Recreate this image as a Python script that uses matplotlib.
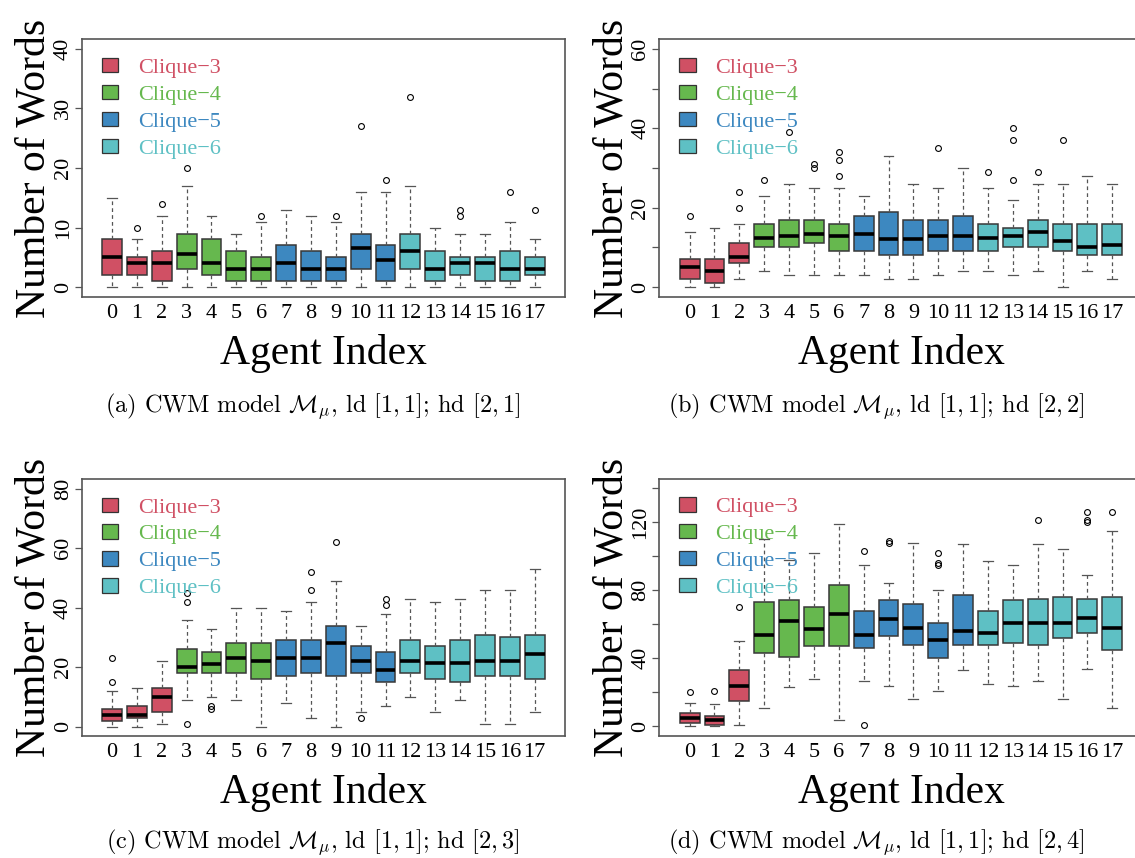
import matplotlib
matplotlib.use("Agg")
import matplotlib.pyplot as plt
from matplotlib.patches import Patch

plt.rcParams["font.family"] = ["Liberation Serif", "DejaVu Serif"]
plt.rcParams["mathtext.fontset"] = "cm"

# agents 0..17, grouped by clique size
agents = list(range(18))
agent_clique = [3] * 3 + [4] * 4 + [5] * 5 + [6] * 6
cliques = [3, 4, 5, 6]
clique_labels = ["Clique\u22123", "Clique\u22124", "Clique\u22125", "Clique\u22126"]
clique_colors = ["#D05064", "#66B84E", "#3D88C0", "#5EC0C4"]

# (a) hd [2,1]
a_lo = [0, 0, 0, 0, 0, 0, 0, 0, 0, 0, 0, 0, 0, 0, 0, 0, 0, 0]
a_q1 = [2, 2, 1, 3, 2, 1, 1, 1, 1, 1, 3, 1, 3, 1, 2, 1, 1, 2]
a_med = [5, 4, 4, 5.5, 4, 3, 3, 4, 3, 3, 6.5, 4.5, 6, 3, 4, 4, 3, 3]
a_q3 = [8, 5, 6, 9, 8, 6, 5, 7, 6, 5, 9, 7, 9, 6, 5, 5, 6, 5]
a_hi = [15, 8, 12, 17, 12, 9, 11, 13, 12, 11, 16, 16, 17, 10, 9, 9, 11, 8]
a_out = [[], [10], [14], [20], [], [], [12], [], [], [12], [27], [18], [32], [], [12, 13], [], [16], [13]]

# (b) hd [2,2]
b_lo = [0, 0, 2, 4, 3, 3, 3, 3, 2, 2, 3, 4, 4, 3, 4, 0, 4, 2]
b_q1 = [2, 1, 6, 10, 10, 11, 9, 9, 8, 8, 9, 9, 9, 10, 10, 9, 8, 8]
b_med = [5, 4, 7.5, 12.5, 13, 13.5, 13, 13.5, 12, 12, 13, 13, 12.5, 13, 14, 11.5, 10, 10.5]
b_q3 = [7, 7, 11, 16, 17, 17, 16, 18, 19, 17, 17, 18, 16, 15, 17, 16, 16, 16]
b_hi = [14, 15, 16, 23, 26, 25, 25, 23, 33, 26, 25, 30, 25, 22, 26, 26, 28, 26]
b_out = [[18], [], [20, 24], [27], [39], [30, 31], [28, 32, 34], [], [], [], [35], [], [29],
         [27, 37, 40], [29], [37], [], []]

# (c) hd [2,3]
c_lo = [0, 0, 1, 9, 10, 9, 0, 8, 3, 0, 5, 7, 10, 5, 9, 1, 1, 5]
c_q1 = [2, 3, 5, 18, 18, 18, 16, 17, 18, 17, 18, 15, 18, 16, 15, 17, 17, 16]
c_med = [4, 4, 10, 20, 21, 23, 22, 23, 23, 28, 22, 19, 22, 21.5, 21.5, 22, 22, 24.5]
c_q3 = [6, 7, 13, 26, 25, 28, 28, 29, 29, 34, 27, 25, 29, 27, 29, 31, 30, 31]
c_hi = [12, 13, 22, 36, 33, 40, 40, 39, 42, 49, 34, 38, 43, 42, 43, 46, 46, 53]
c_out = [[15, 23], [], [], [1, 42, 45], [6, 7], [], [], [], [46, 52], [62], [3], [41, 43],
         [], [], [], [], [], []]

# (d) hd [2,4]
d_lo = [0, 0, 1, 11, 23, 28, 4, 27, 24, 16, 21, 33, 25, 24, 27, 16, 34, 11]
d_q1 = [2, 1, 15, 43, 41, 47, 47, 46, 53, 48, 40, 48, 48, 49, 48, 52, 55, 45]
d_med = [5, 4, 24, 54, 62, 57, 66, 54, 63, 58, 51, 56, 55, 61, 61, 61, 64, 58]
d_q3 = [8, 6, 33, 73, 74, 70, 83, 68, 74, 72, 61, 77, 68, 74, 75, 76, 75, 76]
d_hi = [14, 13, 50, 110, 98, 102, 119, 95, 84, 108, 80, 107, 97, 95, 107, 104, 89, 115]
d_out = [[20], [21], [70], [], [], [], [], [1, 103], [108, 109], [], [95, 96, 102], [], [],
         [], [121], [], [120, 121, 126], [126]]

panels = [
    ("(a)", "[2,1]", a_lo, a_q1, a_med, a_q3, a_hi, a_out, 40, [0, 10, 20, 30, 40], ["0", "10", "20", "30", "40"]),
    ("(b)", "[2,2]", b_lo, b_q1, b_med, b_q3, b_hi, b_out, 60, [0, 10, 20, 30, 40, 50, 60], ["0", "", "20", "", "40", "", "60"]),
    ("(c)", "[2,3]", c_lo, c_q1, c_med, c_q3, c_hi, c_out, 80, [0, 20, 40, 60, 80], ["0", "20", "40", "60", "80"]),
    ("(d)", "[2,4]", d_lo, d_q1, d_med, d_q3, d_hi, d_out, 140, [0, 20, 40, 60, 80, 100, 120, 140],
     ["0", "", "40", "", "80", "", "120", ""]),
]

W, H = 1135, 858
fig = plt.figure(figsize=(W / 100, H / 100), dpi=100)

# pixel boxes of each plot frame: left, top
frames = [(81.7, 39.3), (659.3, 39.3), (81.7, 479.0), (659.3, 478.6)]
fw, fh = 483.3, 257.4
caption_pos = [(313, 406), (876, 406), (313, 842), (876, 842)]

frame_col = "#555555"

for (tag, hd, lo, q1, med, q3, hi, out, ymax, yt, ytl), (fx, fy), (cx, cy) in zip(panels, frames, caption_pos):
    ax = fig.add_axes([fx / W, 1 - (fy + fh) / H, fw / W, fh / H])
    stats = []
    for i in agents:
        stats.append(dict(whislo=lo[i], q1=q1[i], med=med[i], q3=q3[i], whishi=hi[i], fliers=out[i]))
    bp = ax.bxp(stats, positions=agents, widths=0.8, capwidths=0.4, patch_artist=True,
                manage_ticks=False,
                boxprops=dict(edgecolor="#383838", linewidth=1.1),
                medianprops=dict(color="black", linewidth=2.6, solid_capstyle="butt"),
                whiskerprops=dict(color="#555555", linewidth=0.9, linestyle=(0, (3, 2.5))),
                capprops=dict(color="#555555", linewidth=0.9),
                flierprops=dict(marker="o", markersize=4.2, markerfacecolor="none",
                                markeredgecolor="black", markeredgewidth=0.8))
    for patch, c in zip(bp["boxes"], agent_clique):
        patch.set_facecolor(clique_colors[cliques.index(c)])

    pad = 0.04 * ymax
    ax.set_ylim(-pad, ymax + pad)
    ax.set_xlim(-0.5 - 0.72, 17.5 + 0.72)
    ax.set_xticks(agents)
    ax.set_xticklabels([str(i) for i in agents])
    ax.set_yticks(yt)
    ax.set_yticklabels(ytl, rotation=90, va="center")
    ax.tick_params(axis="x", length=0, pad=5, labelsize=16)
    ax.tick_params(axis="y", length=5, width=0.9, color=frame_col, pad=1.5, labelsize=16)
    for s in ax.spines.values():
        s.set_color(frame_col)
        s.set_linewidth(1.2)

    ax.set_xlabel("Agent Index", fontsize=30, labelpad=8)
    ax.set_ylabel("Number of Words", fontsize=30, labelpad=0)

    handles = [Patch(facecolor=c, edgecolor="#333333", linewidth=0.9) for c in clique_colors]
    leg = ax.legend(handles, clique_labels, loc="upper left", bbox_to_anchor=(0.041, 0.928),
                    frameon=False, prop={"size": 16}, handlelength=0.75, handleheight=0.62,
                    handletextpad=0.89, labelspacing=0.31, borderaxespad=0, borderpad=0)
    for t, c in zip(leg.get_texts(), clique_colors):
        t.set_color(c)

    fig.text(cx / W, 1 - cy / H,
             tag + r" CWM model $\mathcal{M}_\mu$, ld $[1,1]$; hd $" + hd + "$",
             ha="center", va="center", fontsize=17.5, family="cmr10")

fig.savefig("out.png", dpi=100)
